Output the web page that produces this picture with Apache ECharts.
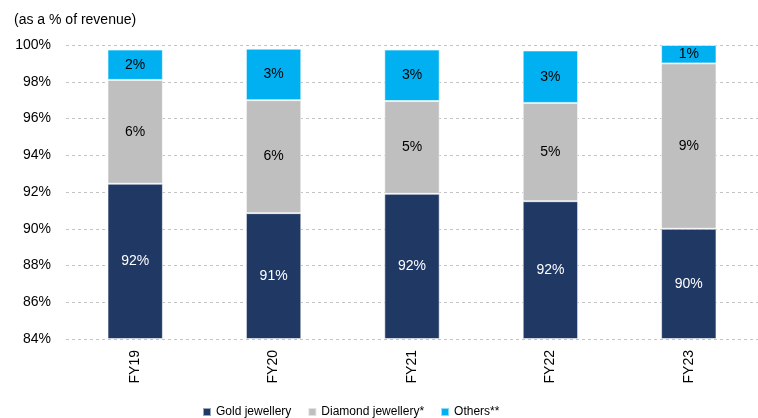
<!DOCTYPE html>
<html>
<head>
<meta charset="utf-8">
<script src="https://cdn.jsdelivr.net/npm/echarts@6/dist/echarts.min.js"></script>
<style>
  html, body { margin: 0; padding: 0; background: #fff; }
  #chart { width: 758px; height: 418px; }
</style>
</head>
<body>
<div id="chart"></div>
<script>
// Revenue mix by product line, share of revenue (%)
const years = ['FY19', 'FY20', 'FY21', 'FY22', 'FY23'];
const goldJewellery = [92.45, 90.85, 91.9, 91.5, 90.0];
const diamondJewellery = [5.65, 6.15, 5.05, 5.35, 9.0];
const others = [1.65, 2.8, 2.8, 2.85, 1.0];
const yTicks = { min: 84, max: 100, step: 2 };

const FONT = '"Liberation Sans", Arial, sans-serif';

const chart = echarts.init(document.getElementById('chart'), null, { renderer: 'canvas' });

function seg(name, data, color, labelColor) {
  return {
    name: name,
    type: 'bar',
    stack: 'mix',
    data: data,
    barCategoryGap: '60%',
    itemStyle: { color: color, borderColor: 'rgba(255,255,255,0.55)', borderWidth: 1 },
    label: {
      show: true,
      position: 'inside',
      fontFamily: FONT,
      fontSize: 14,
      color: labelColor,
      formatter: p => Math.round(p.value) + '%'
    },
    emphasis: { disabled: true }
  };
}

chart.setOption({
  animation: false,
  backgroundColor: '#ffffff',
  textStyle: { fontFamily: FONT },
  title: {
    text: '(as a % of revenue)',
    left: 9,
    top: 8,
    textStyle: { fontFamily: FONT, fontSize: 14, fontWeight: 'normal', color: '#000' }
  },
  legend: {
    left: 197,
    top: 401,
    itemWidth: 8,
    itemHeight: 8,
    itemGap: 16,
    icon: 'rect',
    textStyle: { fontFamily: FONT, fontSize: 12, color: '#000' },
    data: ['Gold jewellery', 'Diamond jewellery*', 'Others**']
  },
  grid: { left: 66, right: -8, top: 45, bottom: 79, containLabel: false },
  xAxis: {
    type: 'category',
    data: years,
    axisLine: { show: false },
    axisTick: { show: false },
    axisLabel: { rotate: 90, margin: 11, fontFamily: FONT, fontSize: 14, color: '#000' }
  },
  yAxis: {
    type: 'value',
    min: yTicks.min,
    max: yTicks.max,
    interval: yTicks.step,
    startValue: yTicks.min,
    axisLine: { show: false },
    axisTick: { show: false },
    axisLabel: { margin: 15, fontFamily: FONT, fontSize: 14, color: '#000', formatter: '{value}%' },
    splitLine: { show: true, lineStyle: { color: '#c4c4c4', type: [3, 3], width: 1 } }
  },
  series: [
    seg('Gold jewellery', goldJewellery, '#203864', '#ffffff'),
    seg('Diamond jewellery*', diamondJewellery, '#bfbfbf', '#000000'),
    seg('Others**', others, '#00b0f0', '#000000')
  ]
});
</script>
</body>
</html>
